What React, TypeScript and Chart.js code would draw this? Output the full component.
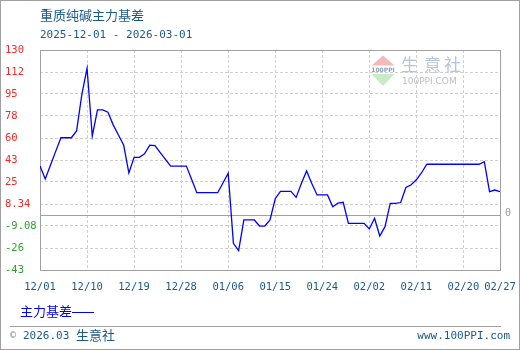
import React, { useEffect, useRef } from 'react';
import { Chart, registerables } from 'chart.js';

Chart.register(...registerables);

const TITLE = '重质纯碱主力基差';
const DATE_RANGE = '2025-12-01 - 2026-03-01';
const SERIES_NAME = '主力基差';
const FOOTER_YEAR = '2026.03';
const FOOTER_BRAND = '生意社';
const FOOTER_SITE = 'www.100PPI.com';
const WM_BRAND = '生意社';
const WM_SITE = '100PPI.COM';
const ZERO_LABEL = '0';

// day index (0 = 2025-12-01) of each x tick, and its label
const xTickDays = [0, 9, 18, 27, 36, 45, 54, 63, 72, 81, 88];
const xTickLabels = ['12/01', '12/10', '12/19', '12/28', '01/06', '01/15', '01/24', '02/02', '02/11', '02/20', '02/27'];

// y ticks as shown by the original chart
const yTickValues = [130.28, 112.86, 95.44, 78.02, 60.6, 43.18, 25.76, 8.34, -9.08, -26.5, -43.92];
const yTickLabels = ['130', '112', '95', '78', '60', '43', '25', '8.34', '-9.08', '-26', '-43'];
const yMin = -43.92;
const yMax = 130.28;

// daily basis values, 2025-12-01 .. 2026-02-27
const basisValues = [
  38.4, 28.1, 39, 50, 60.8, 60.8, 60.8, 66.2, 95, 115.8,
  62.2, 82.8, 82.8, 81, 71, 63, 55, 32.9, 45.3, 45.3,
  48, 55, 54.5, 49, 43.7, 38.4, 38.4, 38.4, 38.4, 28,
  17.3, 17.3, 17.3, 17.3, 17.3, 25, 32.7, -22.8, -28.6, -4.3,
  -4.3, -4.3, -9.1, -9.1, -4.3, 12.5, 18.4, 18.4, 18.4, 13.6,
  24.5, 34.5, 24.5, 15.5, 15.5, 15.5, 6.2, 9, 9.7, -7,
  -7, -7, -7, -11.4, -3, -17, -9.6, 8.9, 8.9, 9.5,
  21.4, 23.6, 27.5, 33.1, 39.8, 39.8, 39.8, 39.8, 39.8, 39.8,
  39.8, 39.8, 39.8, 39.8, 39.8, 41.8, 18.1, 19.4, 18.1,
];

const TEAL = '#1a5a88';
const RED = '#f22a2a';
const GREEN = '#2fa02f';
const FRAME = '#a0a0a0';
const GRID = '#cfcfcf';
const MONO = '"DejaVu Sans Mono", "Liberation Mono", monospace';
const CJK = '"Noto Sans CJK SC", "Noto Sans", sans-serif';

const decor = {
  id: 'decor',
  beforeDraw(chart: any) {
    const { ctx, width, height } = chart;
    ctx.save();
    ctx.fillStyle = '#ffffff';
    ctx.fillRect(0, 0, width, height);

    // watermark logo
    ctx.fillStyle = '#f6b9b9';
    ctx.beginPath();
    ctx.moveTo(383, 55.5);
    ctx.lineTo(394.5, 65.5);
    ctx.lineTo(371.5, 65.5);
    ctx.closePath();
    ctx.fill();
    ctx.fillStyle = '#c6ebc6';
    ctx.beginPath();
    ctx.moveTo(371.5, 74);
    ctx.lineTo(394.5, 74);
    ctx.lineTo(383, 86);
    ctx.closePath();
    ctx.fill();
    ctx.fillStyle = '#8c9cc0';
    ctx.font = 'bold 6px "DejaVu Sans", sans-serif';
    ctx.textAlign = 'center';
    ctx.textBaseline = 'middle';
    ctx.fillText('100PPI', 383, 70);

    ctx.fillStyle = '#b7c3d8';
    ctx.font = `17px ${CJK}`;
    ctx.textAlign = 'left';
    const starts = [401, 424, 444];
    for (let i = 0; i < WM_BRAND.length; i++) ctx.fillText(WM_BRAND[i], starts[i], 64.5);
    ctx.fillStyle = '#bdbdbd';
    ctx.font = '9px "DejaVu Sans", sans-serif';
    ctx.fillText(WM_SITE, 402, 81.5);
    ctx.restore();
  },
  beforeDatasetsDraw(chart: any) {
    const { ctx, chartArea: a, scales } = chart;
    ctx.save();
    ctx.strokeStyle = FRAME;
    ctx.lineWidth = 1;
    const L = Math.round(a.left) + 0.5;
    const R = Math.round(a.right) + 0.5;
    const T = Math.round(a.top) + 0.5;
    const B = Math.round(a.bottom) + 0.5;
    ctx.strokeRect(L, T, R - L, B - T);
    const z = Math.round(scales.y.getPixelForValue(0)) + 0.5;
    ctx.beginPath();
    ctx.moveTo(L, z);
    ctx.lineTo(R, z);
    ctx.stroke();
    ctx.restore();
  },
  afterDraw(chart: any) {
    const { ctx, width, height, scales } = chart;
    ctx.save();
    // outer frame
    ctx.strokeStyle = FRAME;
    ctx.lineWidth = 1;
    ctx.strokeRect(0.5, 0.5, width - 1, height - 1);
    // footer separator
    ctx.beginPath();
    ctx.moveTo(10, 326.5);
    ctx.lineTo(501, 326.5);
    ctx.stroke();

    ctx.textBaseline = 'middle';
    ctx.textAlign = 'left';
    // title + date range
    ctx.fillStyle = TEAL;
    ctx.font = `13px ${CJK}`;
    ctx.fillText(TITLE, 40, 15);
    ctx.font = `11px ${MONO}`;
    ctx.fillText(DATE_RANGE, 40, 35);

    // zero label at right
    ctx.fillStyle = '#999999';
    ctx.font = `10px ${MONO}`;
    ctx.fillText(ZERO_LABEL, 505, scales.y.getPixelForValue(0) - 1);

    // legend
    ctx.fillStyle = '#0000ff';
    ctx.font = `13px ${CJK}`;
    ctx.fillText(SERIES_NAME, 20, 311);
    const lw = ctx.measureText(SERIES_NAME).width;
    ctx.strokeStyle = '#0000ff';
    ctx.beginPath();
    ctx.moveTo(20 + lw, 312.5);
    ctx.lineTo(94, 312.5);
    ctx.stroke();

    // footer
    ctx.fillStyle = '#7a8fa8';
    ctx.font = `10px ${MONO}`;
    ctx.fillText('©', 10, 335);
    ctx.fillStyle = TEAL;
    ctx.font = `11px ${MONO}`;
    ctx.fillText(FOOTER_YEAR, 23, 336);
    ctx.font = `13px ${CJK}`;
    ctx.fillText(FOOTER_BRAND, 76, 335);
    ctx.font = `11px ${MONO}`;
    ctx.textAlign = 'right';
    ctx.fillText(FOOTER_SITE, 510, 336);
    ctx.restore();
  },
};

export default function App() {
  const ref = useRef<HTMLCanvasElement>(null);
  useEffect(() => {
    document.body.style.margin = '0';
    const chart = new Chart(ref.current as HTMLCanvasElement, {
      type: 'line',
      data: {
        datasets: [
          {
            label: SERIES_NAME,
            data: basisValues.map((v, i) => ({ x: i, y: v })),
            borderColor: '#0000ff',
            borderWidth: 1.3,
            pointRadius: 0,
            tension: 0,
            fill: false,
          },
        ],
      },
      options: {
        responsive: false,
        animation: false,
        events: [],
        layout: { padding: { left: 5, top: 50, right: 20, bottom: 50 } },
        plugins: { legend: { display: false }, tooltip: { enabled: false } },
        scales: {
          x: {
            type: 'linear',
            min: 0,
            max: 88,
            afterBuildTicks: (s: any) => {
              s.ticks = xTickDays.map((v) => ({ value: v }));
            },
            afterFit: (s: any) => {
              s.height = 30;
              s.paddingLeft = 0;
              s.paddingRight = 0;
            },
            ticks: {
              autoSkip: false,
              maxRotation: 0,
              padding: 11,
              color: TEAL,
              font: { family: MONO, size: 10.5 },
              callback: (v: any) => {
                const i = xTickDays.indexOf(Number(v));
                return i >= 0 ? xTickLabels[i] : '';
              },
            },
            grid: { color: GRID, drawTicks: false, lineWidth: 1 },
            border: { display: false, dash: [3, 2] },
          },
          y: {
            type: 'linear',
            min: yMin,
            max: yMax,
            afterBuildTicks: (s: any) => {
              s.ticks = yTickValues.map((v) => ({ value: v }));
            },
            afterFit: (s: any) => {
              s.width = 35;
              s.paddingTop = 0;
              s.paddingBottom = 0;
            },
            ticks: {
              crossAlign: 'far',
              padding: 4,
              color: (c: any) => (c.tick && c.tick.value < 0 ? GREEN : RED),
              font: { family: MONO, size: 10.5 },
              callback: (v: any) => {
                const i = yTickValues.indexOf(Number(v));
                return i >= 0 ? yTickLabels[i] : '';
              },
            },
            grid: { color: GRID, drawTicks: false, lineWidth: 1 },
            border: { display: false, dash: [3, 2] },
          },
        },
      },
      plugins: [decor],
    } as any);
    return () => chart.destroy();
  }, []);
  return <canvas ref={ref} width={520} height={350} style={{ display: 'block', width: 520, height: 350 }} />;
}
